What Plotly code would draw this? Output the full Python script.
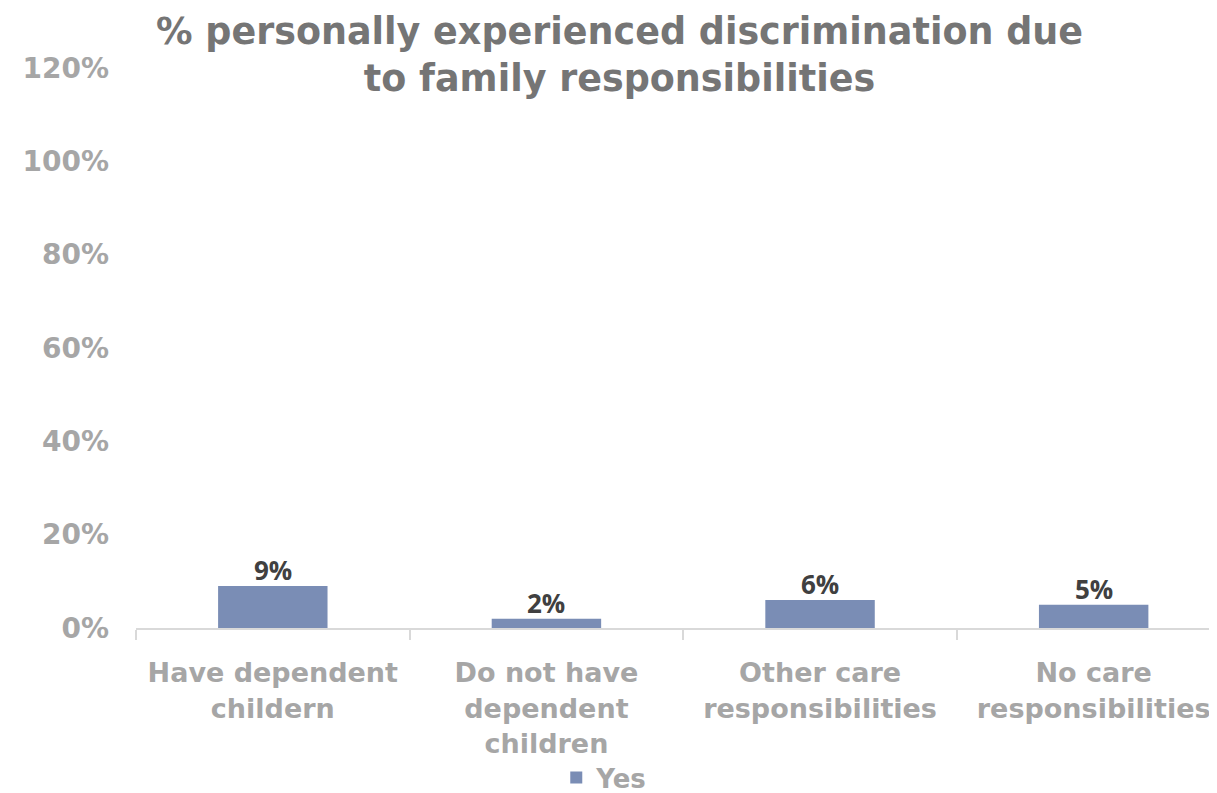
import plotly.graph_objects as go

categories = ["Have dependent<br>childern", "Do not have<br>dependent<br>children",
              "Other care<br>responsibilities", "No care<br>responsibilities"]
values = [0.09, 0.02, 0.06, 0.05]
value_labels = ["9%", "2%", "6%", "5%"]
y_ticks = [0, 0.2, 0.4, 0.6, 0.8, 1.0, 1.2]
y_tick_labels = ["0%", "20%", "40%", "60%", "80%", "100%", "120%"]
series_name = "Yes"
title_text = "% personally experienced discrimination due<br>to family responsibilities"

FONT = "DejaVu Sans"

fig = go.Figure()
fig.add_trace(go.Bar(
    x=categories, y=values, name=series_name,
    marker=dict(color="#7A8DB5", line=dict(width=0)),
    width=0.4,
))

for cat, val, lab in zip(categories, values, value_labels):
    fig.add_annotation(
        x=cat, y=val, text="<b>" + lab + "</b>", showarrow=False,
        xanchor="center", yanchor="bottom", yshift=-4,
        font=dict(family="Open Sans", size=26, color="#404040"),
    )

fig.add_annotation(
    text="<b>" + title_text + "</b>", xref="paper", yref="paper",
    x=0.444, y=1.024, xanchor="center", yanchor="middle", showarrow=False,
    font=dict(family=FONT, size=36.5, color="#757575"),
)

fig.update_layout(
    width=1217, height=793,
    paper_bgcolor="white", plot_bgcolor="white",
    margin=dict(l=128, r=0, t=60, b=173),
    showlegend=True,
    legend=dict(orientation="h", x=0.43, xanchor="center", y=-0.005, yanchor="bottom",
                yref="container",
                font=dict(family=FONT, size=26, color="#A6A6A6", weight="bold")),
)
fig.update_xaxes(
    type="category", range=[-0.5, 3.48], automargin=False,
    showline=True, linecolor="#D9D9D9", linewidth=2,
    ticks="outside", tickson="boundaries", ticklen=10, tickcolor="#D9D9D9", tickwidth=2,
    tickfont=dict(family=FONT, size=27, color="#A6A6A6", weight="bold"),
    ticklabelstandoff=20,
    showgrid=False,
)
fig.update_yaxes(
    range=[0, 1.2], tickvals=y_ticks, ticktext=y_tick_labels, automargin=False,
    showgrid=False, zeroline=False, showline=False,
    tickfont=dict(family=FONT, size=28, color="#A6A6A6", weight="bold"),
    ticklabelstandoff=26,
)

fig.write_html("out.html")
